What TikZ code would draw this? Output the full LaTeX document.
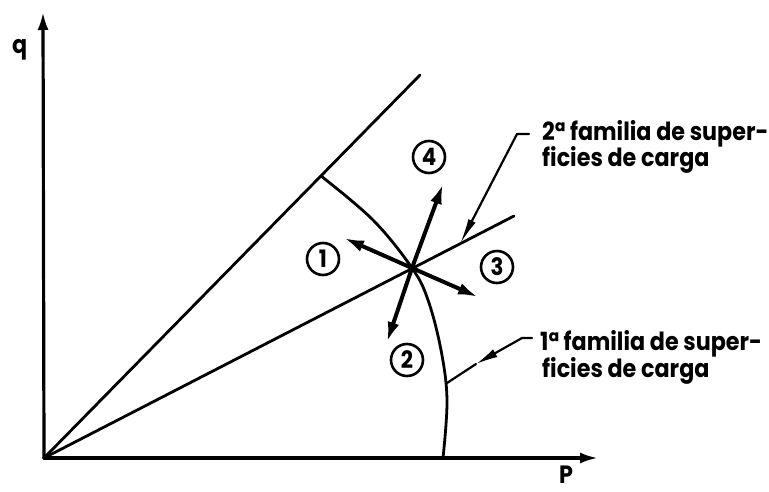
\documentclass[tikz,border=0pt]{standalone}
\usepackage{fontspec}
\newfontfamily\lab[FakeStretch=0.89]{Poppins}
\usetikzlibrary{arrows.meta}
\begin{document}
\begin{tikzpicture}[x=1pt,y=-1pt, line cap=round, line join=round,
 ln/.style={line width=2.8pt},
 ax/.style={line width=3.2pt,-{Latex[length=18pt,width=11pt]}},
 vec/.style={line width=4pt,-{Latex[length=20pt,width=12pt]}},
 num/.style={circle,draw,line width=2.6pt,minimum size=32pt,inner sep=0pt,font=\lab\bfseries\fontsize{24}{24}\selectfont},
 txt/.style={anchor=base west,inner sep=0pt,font=\lab\bfseries\fontsize{25}{25}\selectfont},
 lead/.style={line width=2.2pt}]
\useasboundingbox (0,0) rectangle (769,492);
\coordinate (O) at (44,458);
\coordinate (qtip) at (43,12);
\coordinate (ptip) at (598,458);
\coordinate (U) at (420,75);
\coordinate (M) at (514,216);
\coordinate (C) at (412,268);
\coordinate (a1) at (344,238);
\coordinate (a2) at (387,342);
\coordinate (a3) at (478,297);
\coordinate (a4) at (443,184);
\draw[ax] (O) -- (qtip);
\draw[ax] (O) -- (ptip);
\draw[ln] (O) -- (U);
\draw[ln] (O) -- (M);
\draw[ln] plot[smooth,tension=0.6] coordinates {(443,458) (447,400) (441,350) (428,300) (412,268) (373,220) (321,176)};
\draw[vec] (C) -- (a1);
\draw[vec] (C) -- (a2);
\draw[vec] (C) -- (a3);
\draw[vec] (C) -- (a4);
\node[num] (n1) at (323,259) {1};
\node[num] (n2) at (407,360) {2};
\node[num] (n3) at (497,267) {3};
\node[num] (n4) at (429,157) {4};
\coordinate (L2a) at (529,134);
\coordinate (L2b) at (517,134);
\coordinate (L2c) at (460,244);
\draw[lead,-{Latex[length=26pt,width=8pt]}] (L2a) -- (L2b) -- (L2c);
\coordinate (L1a) at (532,338);
\coordinate (L1b) at (522,338);
\coordinate (L1m) at (476,364);
\coordinate (L1c) at (447,383);
\draw[lead,-{Latex[length=22pt,width=9pt]}] (L1a) -- (L1b) -- (L1m);
\draw[lead] (L1m) -- (L1c);
\node[txt] (t2a) at (542,141) {2ª familia de super-};
\node[txt] (t2b) at (542,167) {ficies de carga};
\node[txt] (t1a) at (540,350) {1ª familia de super-};
\node[txt] (t1b) at (542,377) {ficies de carga};
\node[txt] (q) at (12,54) {q};
\node[txt] (P) at (559,483) {P};
\end{tikzpicture}
\end{document}
